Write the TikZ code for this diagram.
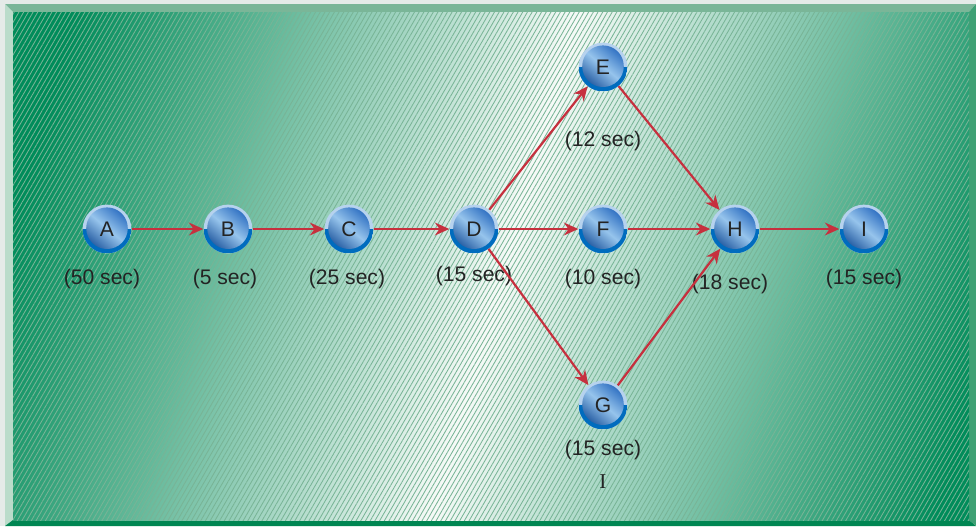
\documentclass[tikz,border=0pt]{standalone}
\usepackage{fontspec}
\setmainfont{Liberation Sans}
\newfontfamily\labelSerif{Liberation Serif}
\usetikzlibrary{arrows.meta,patterns.meta}
\definecolor{frameBack}{RGB}{229,235,232}
\definecolor{bevelTop}{RGB}{122,182,152}
\definecolor{bevelLeft}{RGB}{186,220,202}
\definecolor{bevelRight}{RGB}{62,160,116}
\definecolor{bevelBottom}{RGB}{0,134,82}
\definecolor{sheenDark}{RGB}{0,140,90}
\definecolor{sheenLight}{RGB}{246,250,247}
\definecolor{hatchTone}{RGB}{120,180,150}
\definecolor{rimLight}{RGB}{182,210,238}
\definecolor{rimDark}{RGB}{0,108,190}
\definecolor{ballBlue}{RGB}{52,116,196}
\definecolor{ballHi}{RGB}{150,196,236}
\definecolor{arrowRed}{RGB}{198,48,62}
\definecolor{textDark}{RGB}{35,35,35}
\pgfdeclarehorizontalshading{greenSheen}{100bp}{color(0bp)=(sheenDark); color(30bp)=(sheenDark); color(50bp)=(sheenLight); color(70bp)=(sheenDark); color(100bp)=(sheenDark)}
\tikzset{
  flowStep/.style={circle, minimum size=12.2mm, inner sep=0pt, fill=rimLight, text=textDark, font=\fontsize{15}{18}\selectfont,
    path picture={
      \fill[rimDark] (path picture bounding box.west) rectangle (path picture bounding box.south east);
      \shade[left color=ballBlue, right color=ballBlue!85!black, middle color=ballHi, shading angle=-40] ([yshift=0.2mm]path picture bounding box.center) circle[radius=5.2mm];
    }},
  flowTime/.style={text=textDark, inner sep=1pt, font=\fontsize{15}{18}\selectfont},
  flowArrow/.style={-{Stealth[length=3.6mm, width=3.2mm]}, line width=0.55mm, draw=arrowRed}
}
\begin{document}
\begin{tikzpicture}[x=0.25mm, y=-0.25mm]
  \useasboundingbox (0,0) rectangle (976,526);
  % frame
  \fill[frameBack] (0,0) rectangle (976,526);
  \fill[bevelTop] (5,4) -- (976,4) -- (969,12) -- (13,12) -- cycle;
  \fill[bevelLeft] (5,4) -- (13,12) -- (13,520) -- (5,526) -- cycle;
  \fill[bevelBottom] (5,526) -- (13,520) -- (969,520) -- (976,526) -- cycle;
  \fill[bevelRight] (976,4) -- (969,12) -- (969,520) -- (976,526) -- cycle;
  \begin{scope}
    \clip (13,12) rectangle (969,520);
    \shade[shading=greenSheen, transform canvas={rotate around={-16:(505,266)}}] (-100,-150) rectangle (1110,680);
  \end{scope}
  \fill[pattern={Lines[angle=60, distance=2.9pt, line width=0.6pt]}, pattern color=hatchTone, fill opacity=0.14] (13,12) rectangle (969,520);

  % steps
  \node[flowStep] (A) at (107,229) {A};
  \node[flowStep] (B) at (228,229) {B};
  \node[flowStep] (C) at (349,229) {C};
  \node[flowStep] (D) at (474,229) {D};
  \node[flowStep] (E) at (603,67) {E};
  \node[flowStep] (F) at (603,229) {F};
  \node[flowStep] (G) at (603,405) {G};
  \node[flowStep] (H) at (735,229) {H};
  \node[flowStep] (I) at (864,229) {I};

  % times
  \node[flowTime] (tA) at (102,279) {(50 sec)};
  \node[flowTime] (tB) at (225,279) {(5 sec)};
  \node[flowTime] (tC) at (347,279) {(25 sec)};
  \node[flowTime] (tD) at (474,276) {(15 sec)};
  \node[flowTime] (tE) at (603,141) {(12 sec)};
  \node[flowTime] (tF) at (603,279) {(10 sec)};
  \node[flowTime] (tG) at (603,450) {(15 sec)};
  \node[flowTime] (tH) at (730,284) {(18 sec)};
  \node[flowTime] (tI) at (864,279) {(15 sec)};
  \node[flowTime, font=\labelSerif\fontsize{15}{18}\selectfont] (mark) at (603,482) {I};

  % arrows
  \draw[flowArrow] (A) -- (B);
  \draw[flowArrow] (B) -- (C);
  \draw[flowArrow] (C) -- (D);
  \draw[flowArrow] (D) -- (E);
  \draw[flowArrow] (D) -- (F);
  \draw[flowArrow] (D) -- (G);
  \draw[flowArrow] (E) -- (H);
  \draw[flowArrow] (F) -- (H);
  \draw[flowArrow] (G) -- (H);
  \draw[flowArrow] (H) -- (I);
\end{tikzpicture}
\end{document}
